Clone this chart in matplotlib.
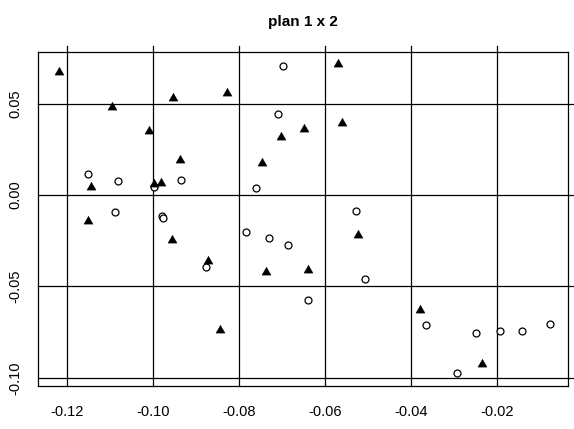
import matplotlib
matplotlib.use("Agg")
import matplotlib.pyplot as plt
from matplotlib.lines import Line2D

plt.rcParams['font.family'] = ['Liberation Sans', 'DejaVu Sans']

# circles (group 1)
circ_x = [-0.0698, -0.0708, -0.0761, -0.1151, -0.1081, -0.0997, -0.1088, -0.0978,
          -0.0976, -0.0935, -0.0784, -0.0731, -0.0685, -0.0527, -0.0506, -0.0639,
          -0.0876, -0.0365, -0.0249, -0.0194, -0.0143, -0.0077, -0.0293]
circ_y = [0.0706, 0.0446, 0.0041, 0.0117, 0.0077, 0.0044, -0.0093, -0.0117,
          -0.0126, 0.0084, -0.0200, -0.0233, -0.0272, -0.0086, -0.0458, -0.0573,
          -0.0394, -0.0712, -0.0754, -0.0745, -0.0745, -0.0706, -0.0976]
# triangles (group 2)
tri_x = [-0.1219, -0.1095, -0.1008, -0.0952, -0.0827, -0.0569, -0.0561, -0.0649,
         -0.0703, -0.0747, -0.0937, -0.1144, -0.0997, -0.0982, -0.1151, -0.0955,
         -0.0872, -0.0737, -0.0639, -0.0522, -0.0844, -0.0378, -0.0236]
tri_y = [0.0674, 0.0482, 0.0349, 0.0533, 0.0559, 0.0720, 0.0394, 0.0360,
         0.0318, 0.0177, 0.0194, 0.0044, 0.0059, 0.0066, -0.0144, -0.0244,
         -0.0363, -0.0422, -0.0412, -0.0221, -0.0737, -0.0631, -0.0923]

xticks = [-0.12, -0.10, -0.08, -0.06, -0.04, -0.02]
xtick_labels = ["-0.12", "-0.10", "-0.08", "-0.06", "-0.04", "-0.02"]
yticks = [0.05, 0.00, -0.05, -0.10]
ytick_labels = ["0.05", "0.00", "-0.05", "-0.10"]

fig = plt.figure(figsize=(5.74, 4.29), dpi=100)
L, R, B, T = 38/574, 568/574, 1-386/429, 1-52/429
ax = fig.add_axes([L, B, R-L, T-B])
xlim = (-0.12667, -0.0035)
ylim = (-0.1045, 0.0783)
ax.set_xlim(*xlim)
ax.set_ylim(*ylim)

# grid lines that overshoot the box slightly (top and right)
ytop_ext = ylim[1] + (ylim[1]-ylim[0]) * 6.3/334
xright_ext = xlim[1] + (xlim[1]-xlim[0]) * 6.5/530
for xv in xticks:
    ax.add_line(Line2D([xv, xv], [ylim[0], ytop_ext], color='black', lw=0.9, clip_on=False))
for yv in yticks:
    ax.add_line(Line2D([xlim[0], xright_ext], [yv, yv], color='black', lw=0.9, clip_on=False))

tri_marker = [(0, 0.577), (-0.5, -0.289), (0.5, -0.289), (0, 0.577)]
ax.plot(circ_x, circ_y, linestyle='none', marker='o', ms=5.0, mfc='white',
        mec='black', mew=0.9, zorder=3)
ax.plot(tri_x, tri_y, linestyle='none', marker=tri_marker, ms=7.5, mfc='black',
        mec='black', mew=0.3, zorder=4)

ax.set_xticks(xticks)
ax.set_xticklabels(xtick_labels)
ax.set_yticks(yticks)
ax.set_yticklabels(ytick_labels, rotation=90, va='center')
ax.tick_params(axis='both', length=0, labelsize=10.5)
ax.tick_params(axis='x', pad=14)
ax.tick_params(axis='y', pad=11)
for s in ax.spines.values():
    s.set_linewidth(0.9)

ax.set_title("plan 1 x 2", fontsize=11, fontweight='bold', pad=18.5)

fig.savefig("out.png", dpi=100)
